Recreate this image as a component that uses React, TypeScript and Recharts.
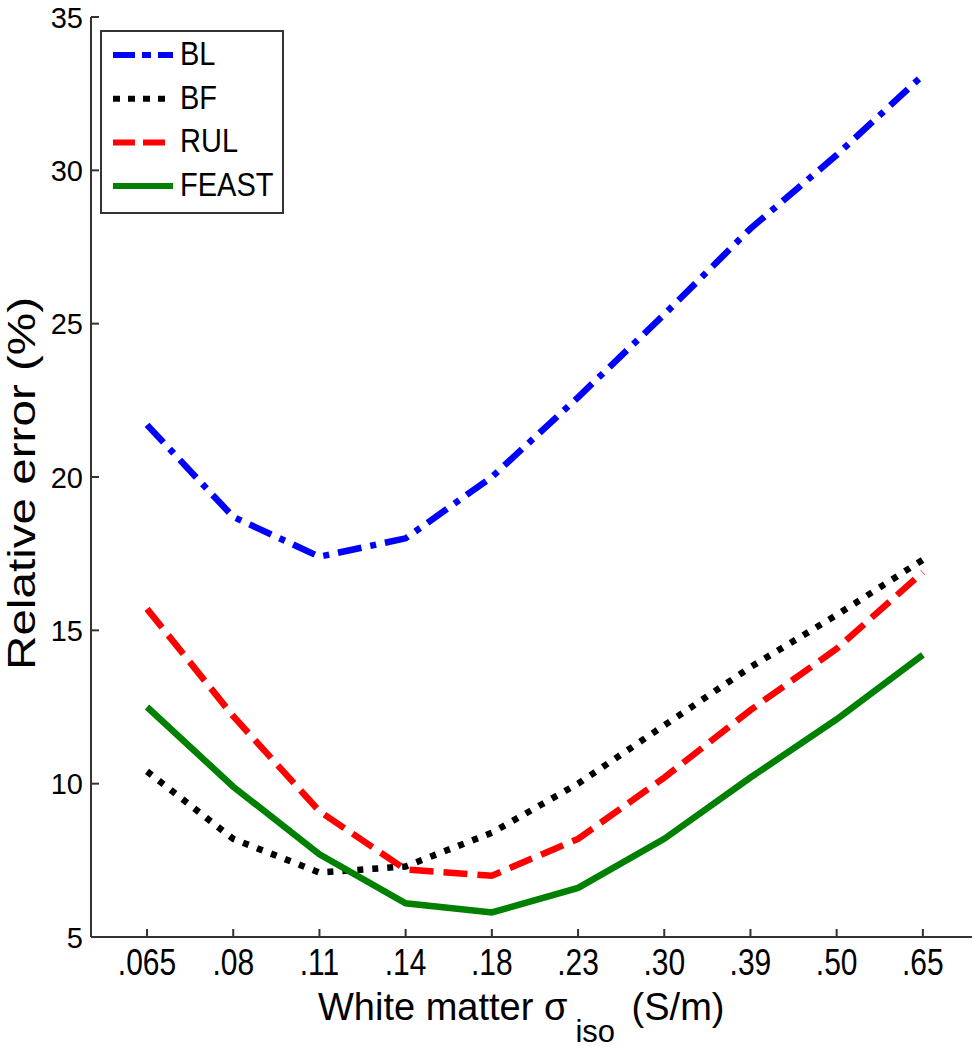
import React from 'react';
import { LineChart, Line, XAxis, YAxis, Legend, Label } from 'recharts';

const categories = ['.065', '.08', '.11', '.14', '.18', '.23', '.30', '.39', '.50', '.65'];
const blValues = [21.7, 18.7, 17.4, 18.0, 20.0, 22.6, 25.3, 28.1, 30.5, 33.1];
const bfValues = [10.4, 8.2, 7.1, 7.3, 8.4, 10.0, 11.9, 13.8, 15.5, 17.3];
const rulValues = [15.7, 12.2, 9.1, 7.2, 7.0, 8.2, 10.2, 12.4, 14.4, 16.9];
const feastValues = [12.5, 9.9, 7.7, 6.1, 5.8, 6.6, 8.2, 10.2, 12.1, 14.2];
const yTicks = [5, 10, 15, 20, 25, 30, 35];
const xTicks = categories.map((_, i) => i);

const data = categories.map((label, i) => ({
  i,
  label,
  BL: blValues[i],
  BF: bfValues[i],
  RUL: rulValues[i],
  FEAST: feastValues[i],
}));

const series = [
  { key: 'BL', color: '#0000ff', dash: '24 9 6 9', legendDash: '22 7 9 7 15', legendEnd: 73 },
  { key: 'BF', color: '#000000', dash: '6 9', legendDash: '7 8', legendEnd: 66 },
  { key: 'RUL', color: '#ff0000', dash: '24 10', legendDash: '22 8', legendEnd: 65 },
  { key: 'FEAST', color: '#008000', dash: undefined, legendDash: undefined, legendEnd: 73 },
];

const AXIS = '#333';
const FONT = '"Liberation Sans", Arial, sans-serif';
const TICK_LEN = 8;

const BottomTick = (props: any) => {
  const { x, y, payload } = props;
  return (
    <g>
      <line x1={x} y1={y} x2={x} y2={y - TICK_LEN} stroke={AXIS} strokeWidth={2} />
      <text
        transform={`translate(${x},${y + 38}) scale(1,1.2)`}
        textAnchor="middle"
        fontSize={30}
        fontFamily={FONT}
        fill="#000"
      >
        {categories[payload.value]}
      </text>
    </g>
  );
};

const TopTick = (props: any) => {
  const { x, y } = props;
  return <line x1={x} y1={y} x2={x} y2={y + TICK_LEN} stroke={AXIS} strokeWidth={2} />;
};

const LeftTick = (props: any) => {
  const { x, y, payload } = props;
  return (
    <g>
      <line x1={x} y1={y} x2={x + TICK_LEN} y2={y} stroke={AXIS} strokeWidth={2} />
      <text x={x - 8} y={y + 10.5} textAnchor="end" fontSize={29} fontFamily={FONT} fill="#000">
        {payload.value}
      </text>
    </g>
  );
};

const RightTick = (props: any) => {
  const { x, y } = props;
  return <line x1={x} y1={y} x2={x - TICK_LEN} y2={y} stroke={AXIS} strokeWidth={2} />;
};

const XTitle = () => (
  <text x={318} y={1020} fontSize={38} fontFamily={FONT} fill="#000">
    White matter σ
    <tspan dx={8} dy={22} fontSize={31}>iso</tspan>
    <tspan dx={6} dy={-22} fontSize={38}> (S/m)</tspan>
  </text>
);

const YTitle = () => (
  <text
    transform="translate(35,483.5) rotate(-90)"
    textAnchor="middle"
    fontSize={38}
    fontFamily={FONT}
    fill="#000"
    textLength={373}
    lengthAdjust="spacingAndGlyphs"
  >
    Relative error (%)
  </text>
);

const renderLegend = () => (
  <svg width={184} height={184} style={{ display: 'block' }}>
    <rect x={1} y={1} width={182} height={182} fill="#fff" stroke={AXIS} strokeWidth={2} />
    {series.map((s, k) => {
      const cy = 25 + k * 43.7;
      return (
        <g key={s.key}>
          <line
            x1={13}
            x2={s.legendEnd}
            y1={cy}
            y2={cy}
            stroke={s.color}
            strokeWidth={6}
            strokeDasharray={s.legendDash}
          />
          <text
            transform={`translate(80,${cy + 10}) scale(1,1.15)`}
            fontSize={29}
            fontFamily={FONT}
            fill="#000"
          >
            {s.key}
          </text>
        </g>
      );
    })}
  </svg>
);

export default function App() {
  return (
    <div style={{ width: 974, height: 1050 }}>
      <style>{'body { margin: 0; }'}</style>
      <LineChart
        width={974}
        height={1050}
        data={data}
        margin={{ top: 17, right: 2, left: 0, bottom: 0 }}
        style={{ background: '#fff' }}
      >
        <XAxis
          xAxisId="bottom"
          dataKey="i"
          type="number"
          domain={[-0.65, 9.57]}
          ticks={xTicks}
          interval={0}
          allowDataOverflow
          height={113}
          tick={BottomTick}
          tickLine={false}
          tickSize={0}
          tickMargin={0}
          axisLine={{ stroke: AXIS, strokeWidth: 2 }}
        >
          <Label content={XTitle} />
        </XAxis>
        <XAxis
          xAxisId="top"
          orientation="top"
          dataKey="i"
          type="number"
          domain={[-0.65, 9.57]}
          ticks={xTicks}
          interval={0}
          allowDataOverflow
          height={0}
          tick={TopTick}
          tickLine={false}
          tickSize={0}
          tickMargin={0}
          axisLine={{ stroke: AXIS, strokeWidth: 2 }}
        />
        <YAxis
          yAxisId="left"
          type="number"
          domain={[5, 35]}
          ticks={yTicks}
          interval={0}
          allowDataOverflow
          width={91}
          tick={LeftTick}
          tickLine={false}
          tickSize={0}
          tickMargin={0}
          axisLine={{ stroke: AXIS, strokeWidth: 2 }}
        >
          <Label content={YTitle} />
        </YAxis>
        <YAxis
          yAxisId="right"
          orientation="right"
          type="number"
          domain={[5, 35]}
          ticks={yTicks}
          interval={0}
          allowDataOverflow
          width={0}
          tick={RightTick}
          tickLine={false}
          tickSize={0}
          tickMargin={0}
          axisLine={{ stroke: AXIS, strokeWidth: 2 }}
        />
        {series.map((s) => (
          <Line
            key={s.key}
            xAxisId="bottom"
            yAxisId="left"
            type="linear"
            dataKey={s.key}
            stroke={s.color}
            strokeWidth={6.5}
            strokeDasharray={s.dash}
            strokeLinecap="butt"
            dot={false}
            activeDot={false}
            isAnimationActive={false}
          />
        ))}
        <Legend
          layout="horizontal"
          verticalAlign="middle"
          align="center"
          content={renderLegend}
          wrapperStyle={{ position: 'absolute', left: 100, top: 30, width: 184, height: 184 }}
        />
      </LineChart>
    </div>
  );
}
